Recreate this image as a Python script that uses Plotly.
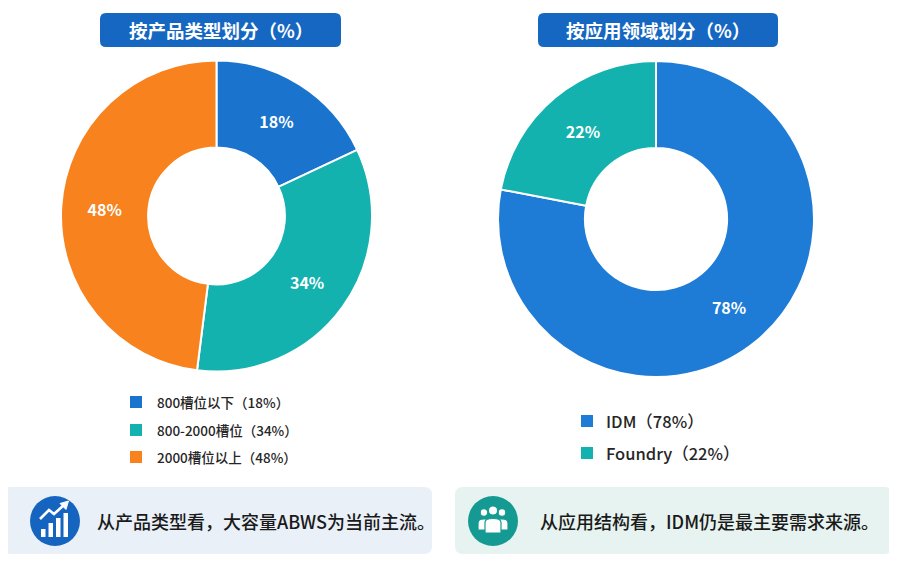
import plotly.graph_objects as go

# page offset (browser default body margin)
OFF = 8
W, H = 897 - OFF, 565 - OFF

# ---------------- data ----------------
prod_title = "按产品类型划分（%）"
prod_labels = ["800槽位以下", "800-2000槽位", "2000槽位以上"]
prod_values = [18, 34, 48]
prod_colors = ["#1A73CC", "#14B2AF", "#F7821E"]

app_title = "按应用领域划分（%）"
app_labels = ["IDM", "Foundry"]
app_values = [78, 22]
app_colors = ["#1E7CD7", "#14B2AF"]

note_left = "从产品类型看，大容量ABWS为当前主流。"
note_right = "从应用结构看，IDM仍是最主要需求来源。"

FONT = "Noto Sans CJK SC"


def X(px):
    return (px - OFF) / W


def Y(py):
    return 1 - (py - OFF) / H


def rrect(x0, y0, x1, y1, r):
    pts = [
        f"M{X(x0 + r)},{Y(y0)}",
        f"L{X(x1 - r)},{Y(y0)}",
        f"Q{X(x1)},{Y(y0)} {X(x1)},{Y(y0 + r)}",
        f"L{X(x1)},{Y(y1 - r)}",
        f"Q{X(x1)},{Y(y1)} {X(x1 - r)},{Y(y1)}",
        f"L{X(x0 + r)},{Y(y1)}",
        f"Q{X(x0)},{Y(y1)} {X(x0)},{Y(y1 - r)}",
        f"L{X(x0)},{Y(y0 + r)}",
        f"Q{X(x0)},{Y(y0)} {X(x0 + r)},{Y(y0)}",
        "Z",
    ]
    return " ".join(pts)


def poly(points, close=True):
    s = "M" + " L".join(f"{X(a)},{Y(b)}" for a, b in points)
    return s + (" Z" if close else "")


fig = go.Figure()

fig.add_trace(go.Pie(
    labels=prod_labels, values=prod_values, sort=False, direction="clockwise",
    rotation=0, hole=0.44,
    marker=dict(colors=prod_colors, line=dict(color="white", width=2)),
    texttemplate="%{value}%", textposition="inside",
    insidetextorientation="horizontal",
    textfont=dict(family=FONT, size=16, color="white", weight="bold"),
    domain=dict(x=[X(61), X(372)], y=[Y(372), Y(60)]),
    showlegend=False, hoverinfo="label+value",
))

fig.add_trace(go.Pie(
    labels=app_labels, values=app_values, sort=False, direction="clockwise",
    rotation=0, hole=0.45,
    marker=dict(colors=app_colors, line=dict(color="white", width=2)),
    texttemplate="%{value}%", textposition="inside",
    insidetextorientation="horizontal",
    textfont=dict(family=FONT, size=16, color="white", weight="bold"),
    domain=dict(x=[X(498), X(814)], y=[Y(378), Y(60)]),
    showlegend=False, hoverinfo="label+value",
))

shapes = []
annotations = []

# title boxes
for (x0, x1, title) in [(100, 341, prod_title), (538, 778, app_title)]:
    shapes.append(dict(type="path", xref="paper", yref="paper",
                       path=rrect(x0, 13, x1, 47, 6),
                       fillcolor="#1667C1", line=dict(width=0)))
    annotations.append(dict(x=X((x0 + x1) / 2), y=Y(30), xref="paper", yref="paper",
                            text=f"<b>{title}</b>", showarrow=False,
                            xanchor="center", yanchor="middle",
                            font=dict(family=FONT, size=18.5, color="white")))

# manual legends
left_rows = [402, 430, 457]
for lab, val, col, yy in zip(prod_labels, prod_values, prod_colors, left_rows):
    shapes.append(dict(type="rect", xref="paper", yref="paper",
                       x0=X(130), x1=X(142), y0=Y(yy - 6), y1=Y(yy + 6),
                       fillcolor=col, line=dict(width=0)))
    annotations.append(dict(x=X(155), y=Y(yy), xref="paper", yref="paper",
                            text=f"{lab}（{val}%）", showarrow=False,
                            xanchor="left", yanchor="middle",
                            font=dict(family=FONT, size=13.5, color="#262626", weight=500)))

right_rows = [421, 453]
for lab, val, col, yy in zip(app_labels, app_values, app_colors, right_rows):
    shapes.append(dict(type="rect", xref="paper", yref="paper",
                       x0=X(581), x1=X(593), y0=Y(yy - 6), y1=Y(yy + 6),
                       fillcolor=col, line=dict(width=0)))
    annotations.append(dict(x=X(604), y=Y(yy), xref="paper", yref="paper",
                            text=f"{lab}（{val}%）", showarrow=False,
                            xanchor="left", yanchor="middle",
                            font=dict(family=FONT, size=16.5, color="#262626", weight=500)))

# bottom note boxes
shapes.append(dict(type="path", xref="paper", yref="paper",
                   path=rrect(3, 487, 432, 554, 8),
                   fillcolor="#E9F0F8", line=dict(width=0)))
shapes.append(dict(type="path", xref="paper", yref="paper",
                   path=rrect(455, 487, 892, 554, 8),
                   fillcolor="#E7F3F0", line=dict(width=0)))

# icon circles
shapes.append(dict(type="circle", xref="paper", yref="paper",
                   x0=X(30), x1=X(80), y0=Y(546), y1=Y(496),
                   fillcolor="#1565C0", line=dict(width=0)))
shapes.append(dict(type="circle", xref="paper", yref="paper",
                   x0=X(468), x1=X(518), y0=Y(546), y1=Y(496),
                   fillcolor="#159A93", line=dict(width=0)))

# chart icon (bars + trend arrow)
for (bx0, bx1, top) in [(41, 45.5, 529), (48.5, 53, 523), (56, 60.5, 518), (63.5, 68, 513)]:
    shapes.append(dict(type="rect", xref="paper", yref="paper",
                       x0=X(bx0), x1=X(bx1), y0=Y(537), y1=Y(top),
                       fillcolor="white", line=dict(width=0)))
shapes.append(dict(type="path", xref="paper", yref="paper",
                   path=poly([(40, 519), (49, 510), (54, 514), (64, 505)], close=False),
                   line=dict(color="white", width=2.6)))
shapes.append(dict(type="path", xref="paper", yref="paper",
                   path=poly([(60, 503.5), (68.5, 501), (66, 509.5)]),
                   fillcolor="white", line=dict(color="white", width=1)))


# people icon
def person(cx, head_y, hr, body_top, body_bot, bw):
    shapes.append(dict(type="circle", xref="paper", yref="paper",
                       x0=X(cx - hr), x1=X(cx + hr), y0=Y(head_y + hr), y1=Y(head_y - hr),
                       fillcolor="white", line=dict(color="#159A93", width=1.2)))
    path = (f"M{X(cx - bw)},{Y(body_bot)} "
            f"L{X(cx - bw)},{Y(body_top + 4)} "
            f"Q{X(cx - bw)},{Y(body_top)} {X(cx)},{Y(body_top)} "
            f"Q{X(cx + bw)},{Y(body_top)} {X(cx + bw)},{Y(body_top + 4)} "
            f"L{X(cx + bw)},{Y(body_bot)} Z")
    shapes.append(dict(type="path", xref="paper", yref="paper", path=path,
                       fillcolor="white", line=dict(color="#159A93", width=1.2)))


person(484, 512.5, 3.8, 519, 530, 6)
person(502, 512.5, 3.8, 519, 530, 6)
person(493, 510.5, 4.6, 518.5, 533, 8)

# note texts
annotations.append(dict(x=X(95), y=Y(521), xref="paper", yref="paper",
                        text=note_left, showarrow=False, xanchor="left", yanchor="middle",
                        font=dict(family=FONT, size=18, color="#1A1A1A", weight=500)))
annotations.append(dict(x=X(538), y=Y(521), xref="paper", yref="paper",
                        text=note_right, showarrow=False, xanchor="left", yanchor="middle",
                        font=dict(family=FONT, size=18, color="#1A1A1A", weight=500)))

fig.update_layout(
    width=W, height=H,
    margin=dict(l=0, r=0, t=0, b=0),
    paper_bgcolor="white", plot_bgcolor="white",
    shapes=shapes, annotations=annotations,
    font=dict(family=FONT),
    showlegend=False,
)

fig.write_html("out.html")
